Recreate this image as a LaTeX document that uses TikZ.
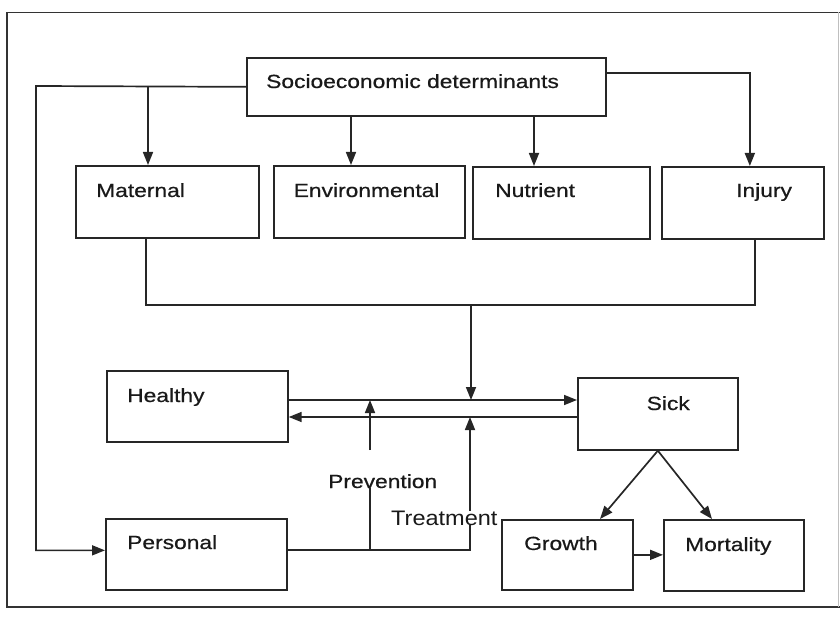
\documentclass[tikz,border=0pt]{standalone}
\usepackage{fontspec}
\setmainfont{Liberation Sans}
\newfontfamily\labelfont{Liberation Sans}[FakeBold=0.6]
\usetikzlibrary{arrows.meta}
% slightly widened lettering
\newcommand{\widetext}[2][1.2]{\scalebox{#1}[1]{#2}}

\begin{document}
\begin{tikzpicture}[x=1pt,y=-1pt,
  ink/.style={draw=black!85, line width=1.7pt},
  box/.style={ink, rectangle, inner sep=0pt, anchor=north west},
  lbl/.style={anchor=base west, inner sep=0pt, text=black!90,
              font=\labelfont\fontsize{19}{22}\selectfont},
  conn/.style={ink, line join=miter},
  arr/.style={conn, -{Triangle[length=13pt,width=10pt]}},
]
\useasboundingbox (0,0) rectangle (840,617);

% outer frame
\draw[line width=1.3pt, black!80] (840,12.5) -- (7,12.5) -- (7,607) -- (840,607);
\draw[line width=0.6pt, black!25] (838,12.5) -- (838,607);

% boxes
\node[box, minimum width=359pt, minimum height=58pt] (socio) at (246,57) {};
\node[box, minimum width=183pt, minimum height=72pt] (mat)   at (75,165) {};
\node[box, minimum width=191pt, minimum height=72pt] (env)   at (273,165) {};
\node[box, minimum width=177pt, minimum height=72pt] (nut)   at (472,166) {};
\node[box, minimum width=162pt, minimum height=72pt] (inj)   at (661,166) {};
\node[box, minimum width=181pt, minimum height=71pt] (healthy)  at (106,370) {};
\node[box, minimum width=160pt, minimum height=72pt] (sick)     at (577,377) {};
\node[box, minimum width=181pt, minimum height=71pt] (personal) at (105,518) {};
\node[box, minimum width=131pt, minimum height=70pt] (growth)   at (501,519) {};
\node[box, minimum width=140pt, minimum height=71pt] (mortality) at (663,519) {};

% labels
\node[lbl] (socioT) at (266,88)  {\widetext{Socioeconomic determinants}};
\node[lbl] (matT)   at (96,197)  {\widetext{Maternal}};
\node[lbl] (envT)   at (293.5,197) {\widetext{Environmental}};
\node[lbl] (nutT)   at (495,197) {\widetext{Nutrient}};
\node[lbl] (injT)   at (736,197) {\widetext{Injury}};
\node[lbl] (healT)  at (127,402) {\widetext{Healthy}};
\node[lbl] (sickT)  at (646.5,410) {\widetext{Sick}};
\node[lbl] (persT)  at (127,549) {\widetext{Personal}};
\node[lbl] (growT)  at (524,550) {\widetext{Growth}};
\node[lbl] (mortT)  at (685,551) {\widetext{Mortality}};
\node[lbl] (prev)   at (328,488) {\widetext{Prevention}};

% helper coordinates
\coordinate (lft) at (36,86);
\coordinate (mj)  at (148,86);
\coordinate (ea)  at (351,0);
\coordinate (na)  at (534,0);
\coordinate (mb)  at (146,305);
\coordinate (ib)  at (755,305);
\coordinate (drop) at (471,305);
\coordinate (up)  at (0,400);
\coordinate (lo)  at (0,417);
\coordinate (pl)  at (0,550);
\coordinate (tx)  at (470,0);
\coordinate (px)  at (370,0);
\coordinate (ptop) at (370,450);
\coordinate (gx)  at (600,0);
\coordinate (mx)  at (712,0);

% socioeconomic determinants feeding the four groups and personal factors
\draw[arr] (socio.west) -- (lft) |- ([yshift=4pt]personal.west);
\draw[arr] (mj) -- (mj |- mat.north);
\draw[arr] (socio.south -| ea) -- (env.north -| ea);
\draw[arr] (socio.south -| na) -- (nut.north -| na);
\draw[arr] ([yshift=14pt]socio.east) -| ([xshift=7pt]inj.north);

% merge of the four groups
\draw[conn] (mat.south -| mb) -- (mb) -- (ib) -- (inj.south -| ib);
\draw[arr] (drop) -- (drop |- up);

% healthy <-> sick
\draw[arr] (healthy.east |- up) -- (sick.west |- up);
\draw[arr] (sick.west |- lo) -- (healthy.east |- lo);

% prevention and treatment
\draw[arr] (personal.east |- pl) -- (tx |- pl) -- (tx |- lo);
\draw[conn] (px |- pl) -- (px |- prev.south);
\draw[arr] (ptop) -- (ptop |- up);

% outcomes
\draw[arr] (sick.south) -- (growth.north -| gx);
\draw[arr] (sick.south) -- (mortality.north -| mx);
\draw[arr] (growth.east) -- (mortality.west |- growth.east);

\node[lbl, fill=white, font=\fontsize{21}{24}\selectfont] (treat) at (391,525) {\widetext[1.12]{Treatment}};
\end{tikzpicture}
\end{document}
